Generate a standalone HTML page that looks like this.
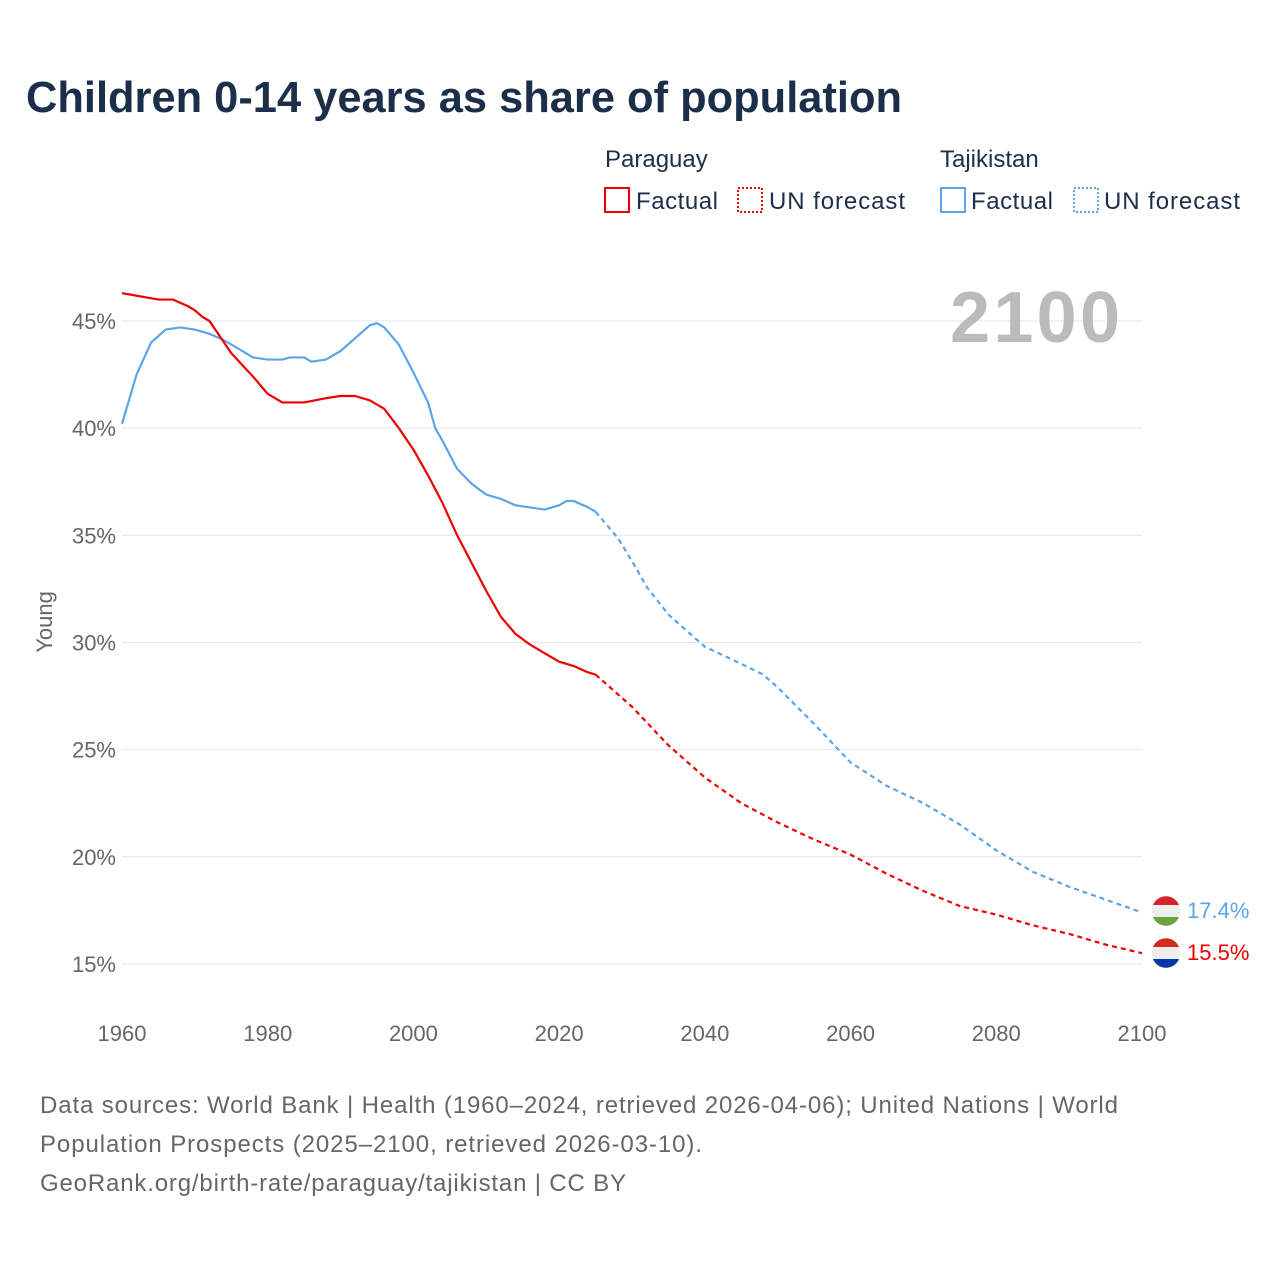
<!DOCTYPE html>
<html><head><meta charset="utf-8"><style>
body{margin:0;background:#fff;font-family:"Liberation Sans",sans-serif;}
</style></head><body>
<svg id="s" width="1280" height="1280" xmlns="http://www.w3.org/2000/svg" font-family="Liberation Sans, sans-serif">
<rect width="1280" height="1280" fill="#fff"/>
<text x="26" y="112" font-size="44" font-weight="bold" fill="#1b2e4a" textLength="876" lengthAdjust="spacingAndGlyphs">Children 0-14 years as share of population</text>
<text x="605" y="167" font-size="24" fill="#1b2e4a">Paraguay</text>
<text x="940" y="167" font-size="24" fill="#1b2e4a">Tajikistan</text>
<rect x="605" y="188" width="24" height="24" fill="none" stroke="#e00" stroke-width="2"/>
<text x="636" y="209" font-size="24" fill="#1b2e4a" textLength="82">Factual</text>
<rect x="738" y="188" width="24" height="24" fill="none" stroke="#e00" stroke-width="2" stroke-dasharray="2,2"/>
<text x="769" y="209" font-size="24" fill="#1b2e4a" textLength="136">UN forecast</text>
<rect x="941" y="188" width="24" height="24" fill="none" stroke="#5aa5ea" stroke-width="2"/>
<text x="971" y="209" font-size="24" fill="#1b2e4a" textLength="82">Factual</text>
<rect x="1074" y="188" width="24" height="24" fill="none" stroke="#5aa5ea" stroke-width="2" stroke-dasharray="2,2"/>
<text x="1104" y="209" font-size="24" fill="#1b2e4a" textLength="136">UN forecast</text>
<g id="grid"></g>
<text x="1035" y="342" font-size="72" font-weight="bold" fill="#bbb" text-anchor="middle" textLength="170">2100</text>
<text transform="translate(52,622) rotate(-90)" font-size="22" fill="#666" text-anchor="middle">Young</text>
<g id="lines"></g>
<circle cx="1166" cy="911" r="14" fill="#eee"/>
<path d="M1153 905 a14 14 0 0 1 26 0z" fill="#d8232a"/>
<path d="M1153 917 a14 14 0 0 0 26 0z" fill="#6aa33b"/>
<circle cx="1166" cy="953" r="14" fill="#eee"/>
<path d="M1153 947 a14 14 0 0 1 26 0z" fill="#d52b1e"/>
<path d="M1153 959 a14 14 0 0 0 26 0z" fill="#0038a8"/>
<text x="1187" y="918" font-size="22" fill="#5aa5ea">17.4%</text>
<text x="1187" y="960" font-size="22" fill="#e00">15.5%</text>
<text x="40" y="1113" font-size="24" fill="#666" textLength="1078">Data sources: World Bank | Health (1960–2024, retrieved 2026-04-06); United Nations | World</text>
<text x="40" y="1152" font-size="24" fill="#666" textLength="662">Population Prospects (2025–2100, retrieved 2026-03-10).</text>
<text x="40" y="1191" font-size="24" fill="#666" textLength="586">GeoRank.org/birth-rate/paraguay/tajikistan | CC BY</text>
</svg>
<script>
const X=y=>122+(y-1960)*1020/140, Y=v=>321+(45-v)*21.43;
let g='';
for(let v=15;v<=45;v+=5){g+=`<line x1="122" x2="1142" y1="${Y(v)}" y2="${Y(v)}" stroke="#e6e6e6"/><text x="116" y="${Y(v)+8}" font-size="22" fill="#666" text-anchor="end">${v}%</text>`;}
for(let y=1960;y<=2100;y+=20){g+=`<text x="${X(y)}" y="1041" font-size="22" fill="#666" text-anchor="middle">${y}</text>`;}
document.getElementById('grid').innerHTML=g;
const pf=[[1960,46.3],[1965,46.0],[1967,46.0],[1969,45.7],[1970,45.5],[1971,45.2],[1972,45.0],[1975,43.5],[1978,42.4],[1980,41.6],[1982,41.2],[1985,41.2],[1988,41.4],[1990,41.5],[1992,41.5],[1994,41.3],[1996,40.9],[1998,40.0],[2000,39.0],[2002,37.8],[2004,36.5],[2006,35.0],[2008,33.7],[2010,32.4],[2012,31.2],[2014,30.4],[2016,29.9],[2018,29.5],[2020,29.1],[2022,28.9],[2024,28.6],[2025,28.5]];
const pu=[[2025,28.5],[2030,27.0],[2035,25.2],[2040,23.7],[2045,22.5],[2050,21.6],[2055,20.8],[2060,20.1],[2065,19.2],[2070,18.4],[2075,17.7],[2080,17.3],[2085,16.8],[2090,16.4],[2095,15.9],[2100,15.5]];
const tf=[[1960,40.2],[1962,42.5],[1964,44.0],[1966,44.6],[1968,44.7],[1970,44.6],[1972,44.4],[1974,44.1],[1976,43.7],[1978,43.3],[1980,43.2],[1982,43.2],[1983,43.3],[1985,43.3],[1986,43.1],[1988,43.2],[1990,43.6],[1992,44.2],[1994,44.8],[1995,44.9],[1996,44.7],[1998,43.9],[2000,42.6],[2002,41.2],[2003,40.0],[2004,39.4],[2006,38.1],[2008,37.4],[2010,36.9],[2012,36.7],[2014,36.4],[2016,36.3],[2018,36.2],[2020,36.4],[2021,36.6],[2022,36.6],[2024,36.3],[2025,36.1]];
const tu=[[2025,36.1],[2028,34.9],[2030,33.8],[2032,32.6],[2035,31.3],[2040,29.8],[2045,29.0],[2048,28.5],[2050,27.9],[2055,26.2],[2060,24.4],[2065,23.3],[2070,22.5],[2075,21.5],[2080,20.3],[2085,19.3],[2090,18.6],[2095,18.0],[2100,17.4]];
const P=(a,c,d)=>`<polyline fill="none" stroke="${c}" stroke-width="2.2" stroke-linejoin="round" ${d?'stroke-dasharray="5,4"':''} points="${a.map(p=>X(p[0])+','+Y(p[1])).join(' ')}"/>`;
document.getElementById('lines').innerHTML=P(tf,'#5aa5ea')+P(tu,'#5aa5ea',1)+P(pf,'#e00')+P(pu,'#e00',1);
</script>
</body></html>
